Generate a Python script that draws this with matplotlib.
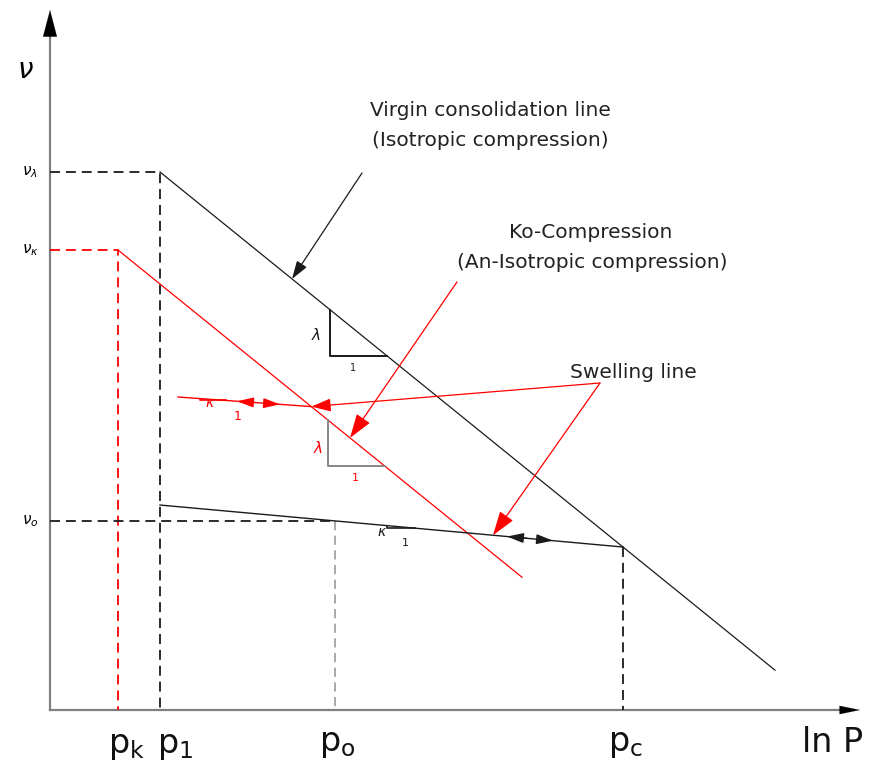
import matplotlib.pyplot as plt

# state-space sketch, ln p along x, specific volume along y (drawing units)
p_k, p_1, p_o, p_c = 68, 110, 285, 573
v_lambda, v_kappa = 538, 460
lam = 0.81            # slope of NCL / K0 line
kappa = 0.0907        # slope of black unload-reload line
kappa_k0 = 0.072      # slope of red unload-reload line
vcl_end = 725
k0_end = 472
swell_k0_start = (128, 313)
swell_label_anchor = (550, 327)

RED = "#ff0000"
INK = "#1a1a1a"


def vcl(x):
    return v_lambda - lam * (x - p_1)


def k0(x):
    return v_kappa - lam * (x - p_k)


v_c = vcl(p_c)


def url(x):
    return v_c + kappa * (p_c - x)


def url_k0(x):
    x0, y0 = swell_k0_start
    return y0 - kappa_k0 * (x - x0)


v_o = url(p_o)
# kink where the red swelling line meets the K0 line
x_kink = (v_kappa + lam * p_k - swell_k0_start[1] - kappa_k0 * swell_k0_start[0]) / (lam - kappa_k0)
y_kink = k0(x_kink)

fig = plt.figure(figsize=(8.69, 7.69), dpi=100)
ax = fig.add_axes([0, 0, 1, 1])
ax.set_xlim(-50, 819)
ax.set_ylim(-59, 710)
ax.axis("off")


def head(xy, xytext, color, hl, hw, lw=0.8):
    ax.annotate("", xy=xy, xytext=xytext,
                arrowprops=dict(arrowstyle=f"-|>,head_length={hl},head_width={hw}", color=color,
                                lw=lw, shrinkA=0, shrinkB=0, mutation_scale=10))


# axes: grey shafts, black heads
ax.plot([0, 0], [0, 680], color="#808080", lw=1.6)
ax.plot([0, 795], [0, 0], color="#808080", lw=1.6)
head((0, 700), (0, 672), "black", 1.9, 0.5, lw=0.1)
head((810, 0), (789, 0), "black", 1.45, 0.3, lw=0.1)

dash = (0, (5.5, 3.3))
# reference dashed lines
ax.plot([0, p_1, p_1], [v_lambda, v_lambda, 0], color=INK, lw=1.3, ls=dash)
ax.plot([0, p_k, p_k], [v_kappa, v_kappa, 0], color=RED, lw=1.3, ls=dash)
ax.plot([0, p_o], [v_o, v_o], color=INK, lw=1.3, ls=dash)
ax.plot([p_o, p_o], [v_o, 0], color="#9a9a9a", lw=1.2, ls=dash)
ax.plot([p_c, p_c], [v_c, 0], color=INK, lw=1.3, ls=dash)

# virgin consolidation and K0 lines
ax.plot([p_1, vcl_end], [v_lambda, vcl(vcl_end)], color=INK, lw=0.9)
ax.plot([p_k, k0_end], [v_kappa, k0(k0_end)], color=RED, lw=0.9)

# swelling lines
ax.plot([p_1, p_c], [url(p_1), v_c], color=INK, lw=1.0)
ax.plot([swell_k0_start[0], x_kink], [swell_k0_start[1], y_kink], color=RED, lw=1.0)


# slope triangles
def slope_triangle(f, x0, x1, color, lw=1.4):
    ax.plot([x0, x0, x1], [f(x0), f(x1), f(x1)], color=color, lw=lw)


slope_triangle(vcl, 280, 337, INK)
slope_triangle(k0, 278, 335, "#888888")
slope_triangle(url, 337, 365, INK, lw=1.2)
slope_triangle(url_k0, 150, 176, RED, lw=1.2)

ax.text(266, 375, r"$\lambda$", fontsize=11, ha="center", va="center", color=INK)
ax.text(303, 342, "1", fontsize=7, ha="center", va="center", color=INK)
ax.text(268, 262, r"$\lambda$", fontsize=11, ha="center", va="center", color=RED)
ax.text(305, 232, "1", fontsize=8, ha="center", va="center", color=RED)
ax.text(332, 178, r"$\kappa$", fontsize=10, ha="center", va="center", color=INK)
ax.text(355, 167, "1", fontsize=8, ha="center", va="center", color=INK)
ax.text(160, 307, r"$\kappa$", fontsize=10, ha="center", va="center", color=RED)
ax.text(188, 294, "1", fontsize=9, ha="center", va="center", color=RED)

# loading / unloading arrows on swelling lines
for f, x_tail, x_tip, color in [(url, 477, 457, INK), (url, 488, 503, INK),
                                (url_k0, 205, 187, RED), (url_k0, 215, 230, RED)]:
    head((x_tip, f(x_tip)), (x_tail, f(x_tail)), color, 1.0, 0.3, lw=1.0)

# callouts
head((242, vcl(242)), (312, 537), INK, 1.1, 0.36, lw=0.9)
head((300, k0(300)), (407, 428), RED, 1.5, 0.5, lw=0.9)
head((x_kink, y_kink), swell_label_anchor, RED, 1.2, 0.4, lw=0.9)
head((443, url(443)), swell_label_anchor, RED, 1.5, 0.5, lw=0.9)

txt = dict(fontsize=14.5, color="#222222", family="DejaVu Sans", ha="center", va="center")
ax.text(440, 600, "Virgin consolidation line", **txt)
ax.text(440, 570, "(Isotropic compression)", **txt)
ax.text(541, 478, "Ko-Compression", **txt)
ax.text(542, 448, "(An-Isotropic compression)", **txt)
ax.text(583, 338, "Swelling line", **txt)

# ordinate labels
ax.text(-25, 640, r"$\nu$", fontsize=20, ha="center", va="center")
ax.text(-20, v_lambda, r"$\nu_\lambda$", fontsize=11, ha="center", va="center")
ax.text(-20, v_kappa, r"$\nu_\kappa$", fontsize=11, ha="center", va="center")
ax.text(-20, v_o, r"$\nu_o$", fontsize=11, ha="center", va="center")

# abscissa labels
big = dict(fontsize=24, ha="center", va="center", color="#111111")
ax.text(p_k + 9, -35, r"$\mathregular{p_k}$", **big)
ax.text(p_1 + 15, -35, r"$\mathregular{p_1}$", **big)
ax.text(p_o + 2, -33, r"$\mathregular{p_o}$", **big)
ax.text(p_c + 2, -33, r"$\mathregular{p_c}$", **big)
ax.text(783, -33, "ln P", **big)

fig.savefig("out.png", dpi=100)
